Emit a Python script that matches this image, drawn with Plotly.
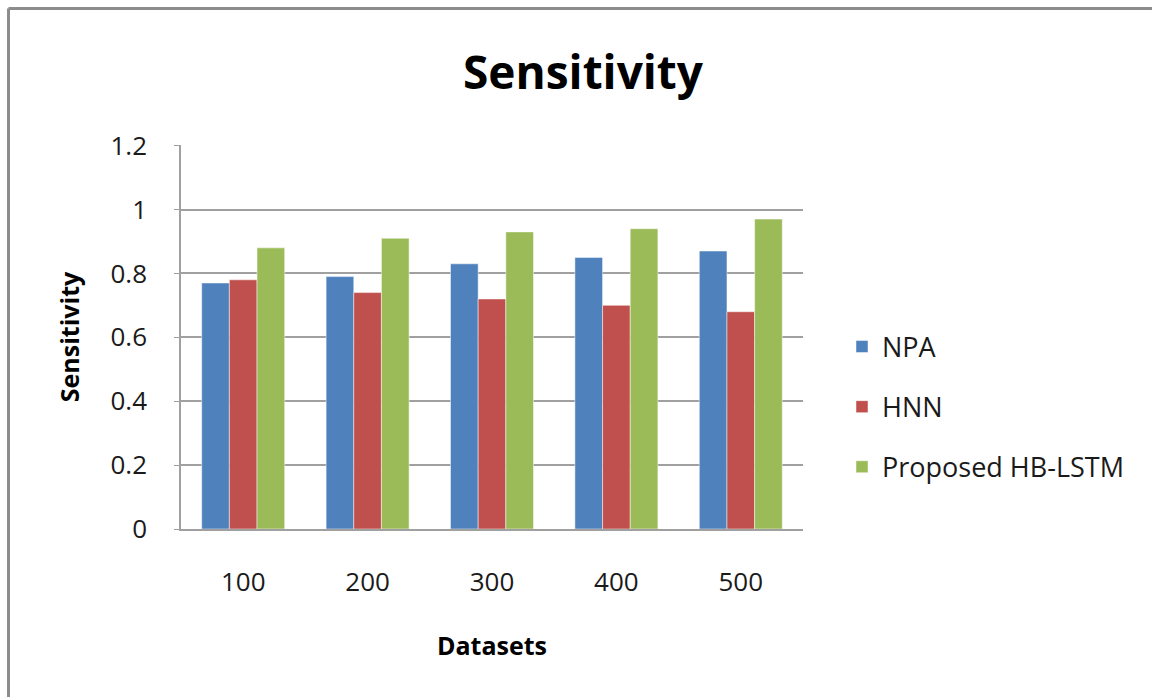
import plotly.graph_objects as go

categories = ["100", "200", "300", "400", "500"]
npa = [0.77, 0.79, 0.83, 0.85, 0.87]
hnn = [0.78, 0.74, 0.72, 0.70, 0.68]
hb_lstm = [0.88, 0.91, 0.93, 0.94, 0.97]
series_names = ["NPA", "HNN", "Proposed HB-LSTM"]
colors = ["#4F81BD", "#C0504D", "#9BBB59"]
y_ticks = [0, 0.2, 0.4, 0.6, 0.8, 1.0, 1.2]
y_tick_labels = ["0", "0.2", "0.4", "0.6", "0.8", "1", "1.2"]

OFF = 0  # page body margin removed via post_script
W, H = 1152, 697
L, R, T, B = 181 - OFF, 803 - OFF, 145 - OFF, 529 - OFF

fig = go.Figure()
for i, (name, vals) in enumerate(zip(series_names, [npa, hnn, hb_lstm])):
    fig.add_trace(go.Bar(
        x=categories, y=vals, name=name, legendgroup=name,
        marker=dict(color=colors[i], line=dict(color="rgba(255,255,255,0.6)", width=0.8)),
    ))

font_family = "Open Sans, DejaVu Sans, sans-serif"
gray = "#A0A0A0"

def px_x(p):  # reference screen px -> paper
    return (p - OFF - L) / (R - L)

def px_y(p):
    return (B - (p - OFF)) / (B - T)

frame = dict(color="#8C8C8C", width=3)
fig.update_layout(
    width=W, height=H,
    margin=dict(l=L, r=W - R, t=T, b=H - B, pad=0),
    paper_bgcolor="white", plot_bgcolor="white",
    barmode="group", bargap=0.333, bargroupgap=0,
    font=dict(family=font_family, color="#1a1a1a"),
    title=dict(text="<b>Sensitivity</b>", x=px_x(583), xanchor="center",
               xref="paper", y=1 - (73 - OFF) / H, yanchor="middle",
               font=dict(size=46, family=font_family, color="black")),
    legend=dict(x=px_x(842), xanchor="left", y=px_y(407), yanchor="middle",
                font=dict(size=27, family=font_family, color="#1a1a1a"),
                tracegroupgap=22, bgcolor="rgba(0,0,0,0)"),
    xaxis=dict(
        showline=True, linecolor=gray, linewidth=1.5,
        ticks="", tickfont=dict(size=26, family=font_family, color="#1a1a1a"),
        ticklabelstandoff=29,
        title=dict(text="<b>Datasets</b>", font=dict(size=25, family=font_family, color="black"), standoff=40),
    ),
    yaxis=dict(
        range=[0, 1.202], tickvals=y_ticks, ticktext=y_tick_labels,
        showline=True, linecolor=gray, linewidth=1.5,
        showgrid=True, gridcolor=gray, gridwidth=1.5,
        ticks="outside", ticklen=5, tickcolor=gray,
        tickfont=dict(size=26, family=font_family, color="#1a1a1a"),
        ticklabelstandoff=22,
        zeroline=False,
        title=dict(text="<b>Sensitivity</b>", font=dict(size=25, family=font_family, color="black"), standoff=24),
    ),
    shapes=[
        dict(type="line", xref="paper", yref="paper",
             x0=px_x(8.5), x1=px_x(1160), y0=px_y(8.5), y1=px_y(8.5), line=frame, layer="above"),
        dict(type="line", xref="paper", yref="paper",
             x0=px_x(8.5), x1=px_x(8.5), y0=px_y(705), y1=px_y(8.5), line=frame, layer="above"),
    ],
)

fig.write_html(
    "out.html",
    config={"displayModeBar": False},
    post_script="document.body.style.margin='0';document.body.style.overflow='hidden';"
                "document.documentElement.style.overflow='hidden';",
)
